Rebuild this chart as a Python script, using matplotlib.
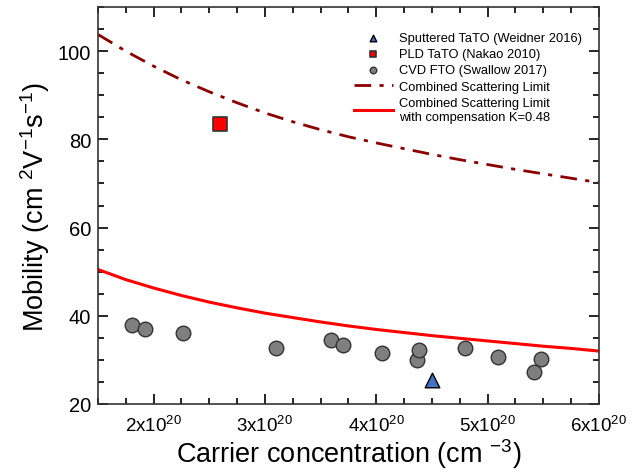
import matplotlib
matplotlib.use("Agg")
import matplotlib.pyplot as plt
from matplotlib.ticker import MultipleLocator, FuncFormatter

plt.rcParams['font.family'] = ['Liberation Sans', 'DejaVu Sans']
plt.rcParams['mathtext.fontset'] = 'custom'
plt.rcParams['mathtext.rm'] = 'Liberation Sans'
plt.rcParams['mathtext.it'] = 'Liberation Sans'
plt.rcParams['mathtext.default'] = 'regular'

# carrier concentration in units of 1e20 cm^-3, mobility in cm2/Vs
tato_sput_n = [4.50]
tato_sput_mu = [25.5]

tato_pld_n = [2.60]
tato_pld_mu = [83.5]

fto_n = [1.81, 1.925, 2.26, 3.10, 3.595, 3.70, 4.05, 4.37, 4.38, 4.795, 5.09, 5.42, 5.48]
fto_mu = [38.0, 36.9, 36.2, 32.8, 34.6, 33.3, 31.6, 30.0, 32.2, 32.6, 30.7, 27.3, 30.1]

limit_n = [1.5, 1.75, 2.0, 2.25, 2.5, 2.75, 3.0, 3.25, 3.5, 3.75,
           4.0, 4.25, 4.5, 4.75, 5.0, 5.25, 5.5, 5.75, 6.0]
limit_mu = [103.8, 100.0, 96.6, 93.5, 90.8, 88.3, 86.0, 84.0, 82.2, 80.6,
            79.2, 77.9, 76.6, 75.4, 74.3, 73.2, 72.2, 71.2, 70.2]
limit_comp_mu = [50.5, 48.2, 46.3, 44.6, 43.1, 41.8, 40.6, 39.6, 38.6, 37.7,
                 36.9, 36.2, 35.5, 34.9, 34.3, 33.7, 33.1, 32.6, 32.0]

fig = plt.figure(figsize=(6.38, 4.77), dpi=100)
ax = fig.add_axes([0.1536, 0.151, 0.785, 0.832])

ax.plot(limit_n, limit_mu, color='#8b0000', lw=2, ls=(0, (6, 3, 1.5, 3)),
        label='Combined Scattering Limit', zorder=2)
ax.plot(limit_n, limit_comp_mu, color='#ff0000', lw=2.2,
        label='Combined Scattering Limit\nwith compensation K=0.48', zorder=2)

ax.scatter(tato_sput_n, tato_sput_mu, marker='^', s=110, color='#4472c4',
           edgecolor='black', linewidth=1, label='Sputtered TaTO (Weidner 2016)', zorder=3)
ax.scatter(tato_pld_n, tato_pld_mu, marker='s', s=100, color='#ff0000',
           edgecolor='#333333', linewidth=1.2, label='PLD TaTO (Nakao 2010)', zorder=3)
ax.scatter(fto_n, fto_mu, marker='o', s=110, color='#7f7f7f',
           edgecolor='#333333', linewidth=1, label='CVD FTO (Swallow 2017)', zorder=3)

ax.set_xlim(1.5, 6.0)
ax.set_ylim(20, 110)
ax.xaxis.set_major_locator(MultipleLocator(1))
ax.xaxis.set_minor_locator(MultipleLocator(0.25))
ax.yaxis.set_major_locator(MultipleLocator(20))
ax.yaxis.set_minor_locator(MultipleLocator(5))
ax.xaxis.set_major_formatter(FuncFormatter(lambda v, p: '%dx10$^{20}$' % round(v)))

ax.tick_params(which='both', direction='in', top=True, right=True, width=1.2)
ax.tick_params(axis='x', labelsize=13.5, pad=8)
ax.tick_params(axis='y', labelsize=14.5, pad=5)
ax.tick_params(which='major', length=7)
ax.tick_params(which='minor', length=4)
for s in ax.spines.values():
    s.set_linewidth(1.2)
    s.set_color('#333333')

ax.set_xlabel('Carrier concentration (cm $^{-3}$)', fontsize=19.5, labelpad=1)
ax.set_ylabel('Mobility (cm $^{2}$V$^{-1}$s$^{-1}$)', fontsize=19.5, labelpad=4)

handles, labels = ax.get_legend_handles_labels()
order = [2, 3, 4, 0, 1]
ax.legend([handles[i] for i in order], [labels[i] for i in order],
          loc='upper right', bbox_to_anchor=(0.985, 0.96), frameon=False,
          fontsize=9.3, markerscale=0.45, handlelength=3.0, handletextpad=0.5,
          labelspacing=0.32, borderpad=0.2)

fig.savefig('out.png', dpi=100)
